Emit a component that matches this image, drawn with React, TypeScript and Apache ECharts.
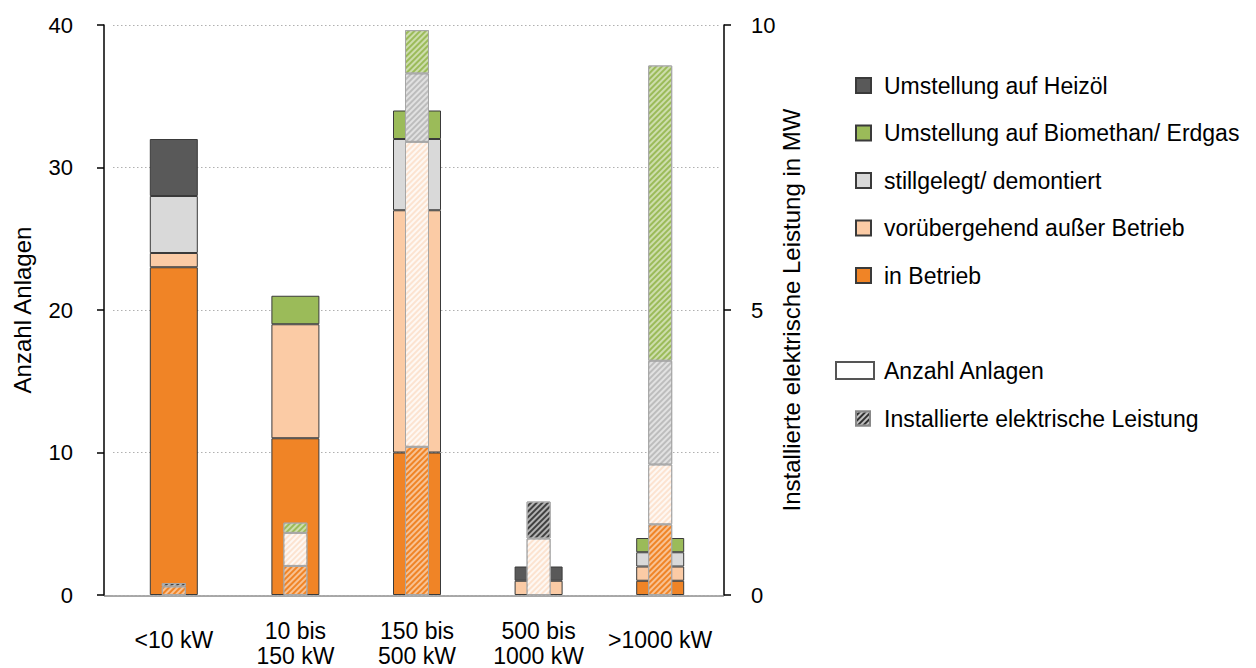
import React, { useEffect, useRef } from "react";
import * as echarts from "echarts";

const categories = ["<10 kW", "10 bis\n150 kW", "150 bis\n500 kW", "500 bis\n1000 kW", ">1000 kW"];

// Anzahl Anlagen (left axis)
const countInBetrieb = [23, 11, 10, 0, 1];
const countVoruebergehend = [1, 8, 17, 1, 1];
const countStillgelegt = [4, 0, 5, 0, 1];
const countBiomethan = [0, 2, 2, 0, 1];
const countHeizoel = [4, 0, 0, 1, 0];

// Installierte elektrische Leistung in MW (right axis)
const mwInBetrieb = [0.15, 0.51, 2.6, 0, 1.24];
const mwVoruebergehend = [0, 0.58, 5.35, 0.99, 1.05];
const mwStillgelegt = [0, 0, 1.2, 0, 1.82];
const mwBiomethan = [0, 0.18, 0.76, 0, 5.18];
const mwHeizoel = [0.06, 0, 0, 0.65, 0];

const leftTicks = { min: 0, max: 40, interval: 10 };
const rightTicks = { min: 0, max: 10, interval: 5 };

const names = {
  heiz: "Umstellung auf Heizöl",
  bio: "Umstellung auf Biomethan/ Erdgas",
  still: "stillgelegt/ demontiert",
  vor: "vorübergehend außer Betrieb",
  betr: "in Betrieb",
};

const FONT = "Liberation Sans, Arial, sans-serif";
const TXT = 23;

const hatch = (alpha: number) => ({
  symbol: "rect",
  symbolSize: 1,
  rotation: -Math.PI / 4,
  color: `rgba(255,255,255,${alpha})`,
  dashArrayX: [1, 0],
  dashArrayY: [2, 2],
});

const nz = (arr: number[]) => arr.map((v) => (v === 0 ? "-" : v));

export default function App() {
  const ref = useRef<HTMLDivElement>(null);
  useEffect(() => {
    if (!ref.current) return;
    const chart = echarts.init(ref.current, null, { renderer: "svg" });

    const countSeries = (name: string, data: number[], color: string) => ({
      name,
      type: "bar",
      xAxisIndex: 0,
      yAxisIndex: 0,
      stack: "count",
      barWidth: 48,
      data: nz(data),
      itemStyle: { color, borderColor: "#3a3a3a", borderWidth: 1 },
      emphasis: { disabled: true },
    });
    const mwSeries = (name: string, data: number[], color: string, alpha: number) => ({
      name,
      type: "bar",
      xAxisIndex: 1,
      yAxisIndex: 1,
      stack: "mw",
      barWidth: 24,
      data: nz(data),
      itemStyle: { color, borderColor: "#a6a6a6", borderWidth: 1, decal: hatch(alpha) },
      emphasis: { disabled: true },
    });

    const option: any = {
      animation: false,
      textStyle: { fontFamily: FONT, color: "#000" },
      grid: { left: 113, right: 535, top: 25, bottom: 72 },
      xAxis: [
        {
          type: "category",
          data: categories,
          axisLine: { show: false },
          axisTick: { show: false },
          axisLabel: {
            interval: 0,
            hideOverlap: false,
            margin: 23,
            fontSize: TXT,
            color: "#000",
            fontFamily: FONT,
            lineHeight: 25,
            formatter: (v: string) => (v.indexOf("\n") >= 0 ? v : `{s|${v}}`),
            rich: { s: { lineHeight: 44, fontSize: TXT, fontFamily: FONT, color: "#000" } },
          },
        },
        { type: "category", data: categories, show: false },
      ],
      yAxis: [
        {
          type: "value",
          position: "left",
          offset: 9,
          ...leftTicks,
          name: "Anzahl Anlagen",
          nameLocation: "middle",
          nameGap: 70,
          nameTextStyle: { fontSize: 24, color: "#000", fontFamily: FONT },
          axisLine: { show: true, lineStyle: { color: "#000", width: 1.5 } },
          axisTick: { show: true, length: 7, lineStyle: { color: "#000", width: 1.5 } },
          axisLabel: { fontSize: 22, color: "#000", margin: 31, fontFamily: FONT },
          splitLine: { show: true, lineStyle: { type: [1.5, 2.5], color: "#b0b0b0", width: 1 } },
        },
        {
          type: "value",
          position: "right",
          offset: 3,
          ...rightTicks,
          name: "Installierte elektrische Leistung in MW",
          nameLocation: "middle",
          nameGap: 53,
          nameTextStyle: { fontSize: 24, color: "#000", fontFamily: FONT },
          axisLine: { show: true, lineStyle: { color: "#000", width: 1.5 } },
          axisTick: { show: true, length: 7, lineStyle: { color: "#000", width: 1.5 } },
          axisLabel: { fontSize: 22, color: "#000", margin: 27, fontFamily: FONT },
          splitLine: { show: false },
        },
      ],
      legend: [
        {
          data: [names.heiz, names.bio, names.still, names.vor, names.betr],
          orient: "vertical",
          left: 855,
          top: 74,
          padding: 0,
          itemWidth: 15,
          itemHeight: 15,
          itemGap: 24.5,
          icon: "rect",
          selectedMode: false,
          textStyle: { fontSize: TXT, lineHeight: 23, color: "#000", fontFamily: FONT, padding: [0, 0, 0, 8] },
        },
        {
          data: ["Anzahl Anlagen"],
          left: 835,
          top: 359,
          padding: 0,
          itemWidth: 38,
          itemHeight: 17,
          icon: "rect",
          selectedMode: false,
          textStyle: { fontSize: TXT, lineHeight: 23, color: "#000", fontFamily: FONT, padding: [0, 0, 0, 5] },
        },
        {
          data: ["Installierte elektrische Leistung"],
          left: 855,
          top: 407,
          padding: 0,
          itemWidth: 14,
          itemHeight: 14,
          icon: "rect",
          selectedMode: false,
          textStyle: { fontSize: TXT, lineHeight: 23, color: "#000", fontFamily: FONT, padding: [0, 0, 0, 9] },
        },
      ],
      graphic: [
        {
          type: "line",
          shape: { x1: 104, y1: 596, x2: 724, y2: 596 },
          style: { stroke: "#8a8a8a", lineWidth: 1.5 },
          z: 0,
        },
      ],
      series: [
        countSeries(names.betr, countInBetrieb, "#F08426"),
        countSeries(names.vor, countVoruebergehend, "#FBCBA5"),
        countSeries(names.still, countStillgelegt, "#D9D9D9"),
        countSeries(names.bio, countBiomethan, "#9BBB59"),
        countSeries(names.heiz, countHeizoel, "#595959"),
        {
          name: "Anzahl Anlagen",
          type: "bar",
          xAxisIndex: 0,
          yAxisIndex: 0,
          stack: "count",
          barWidth: 48,
          data: [],
          itemStyle: { color: "#ffffff", borderColor: "#555", borderWidth: 1 },
        },
        mwSeries(names.betr, mwInBetrieb, "#F08426", 0.5),
        mwSeries(names.vor, mwVoruebergehend, "#FCE3D0", 0.75),
        mwSeries(names.still, mwStillgelegt, "#BDBDBD", 0.55),
        mwSeries(names.bio, mwBiomethan, "#9BBB59", 0.5),
        mwSeries(names.heiz, mwHeizoel, "#404040", 0.6),
        {
          name: "Installierte elektrische Leistung",
          type: "bar",
          xAxisIndex: 1,
          yAxisIndex: 1,
          stack: "mw",
          barWidth: 24,
          data: [],
          itemStyle: { color: "#303030", borderColor: "#888", borderWidth: 0.5, decal: hatch(0.7) },
        },
      ],
    };
    chart.setOption(option);
    return () => chart.dispose();
  }, []);
  return <div ref={ref} style={{ width: 1256, height: 668, position: "absolute", left: 0, top: 0 }} />;
}
